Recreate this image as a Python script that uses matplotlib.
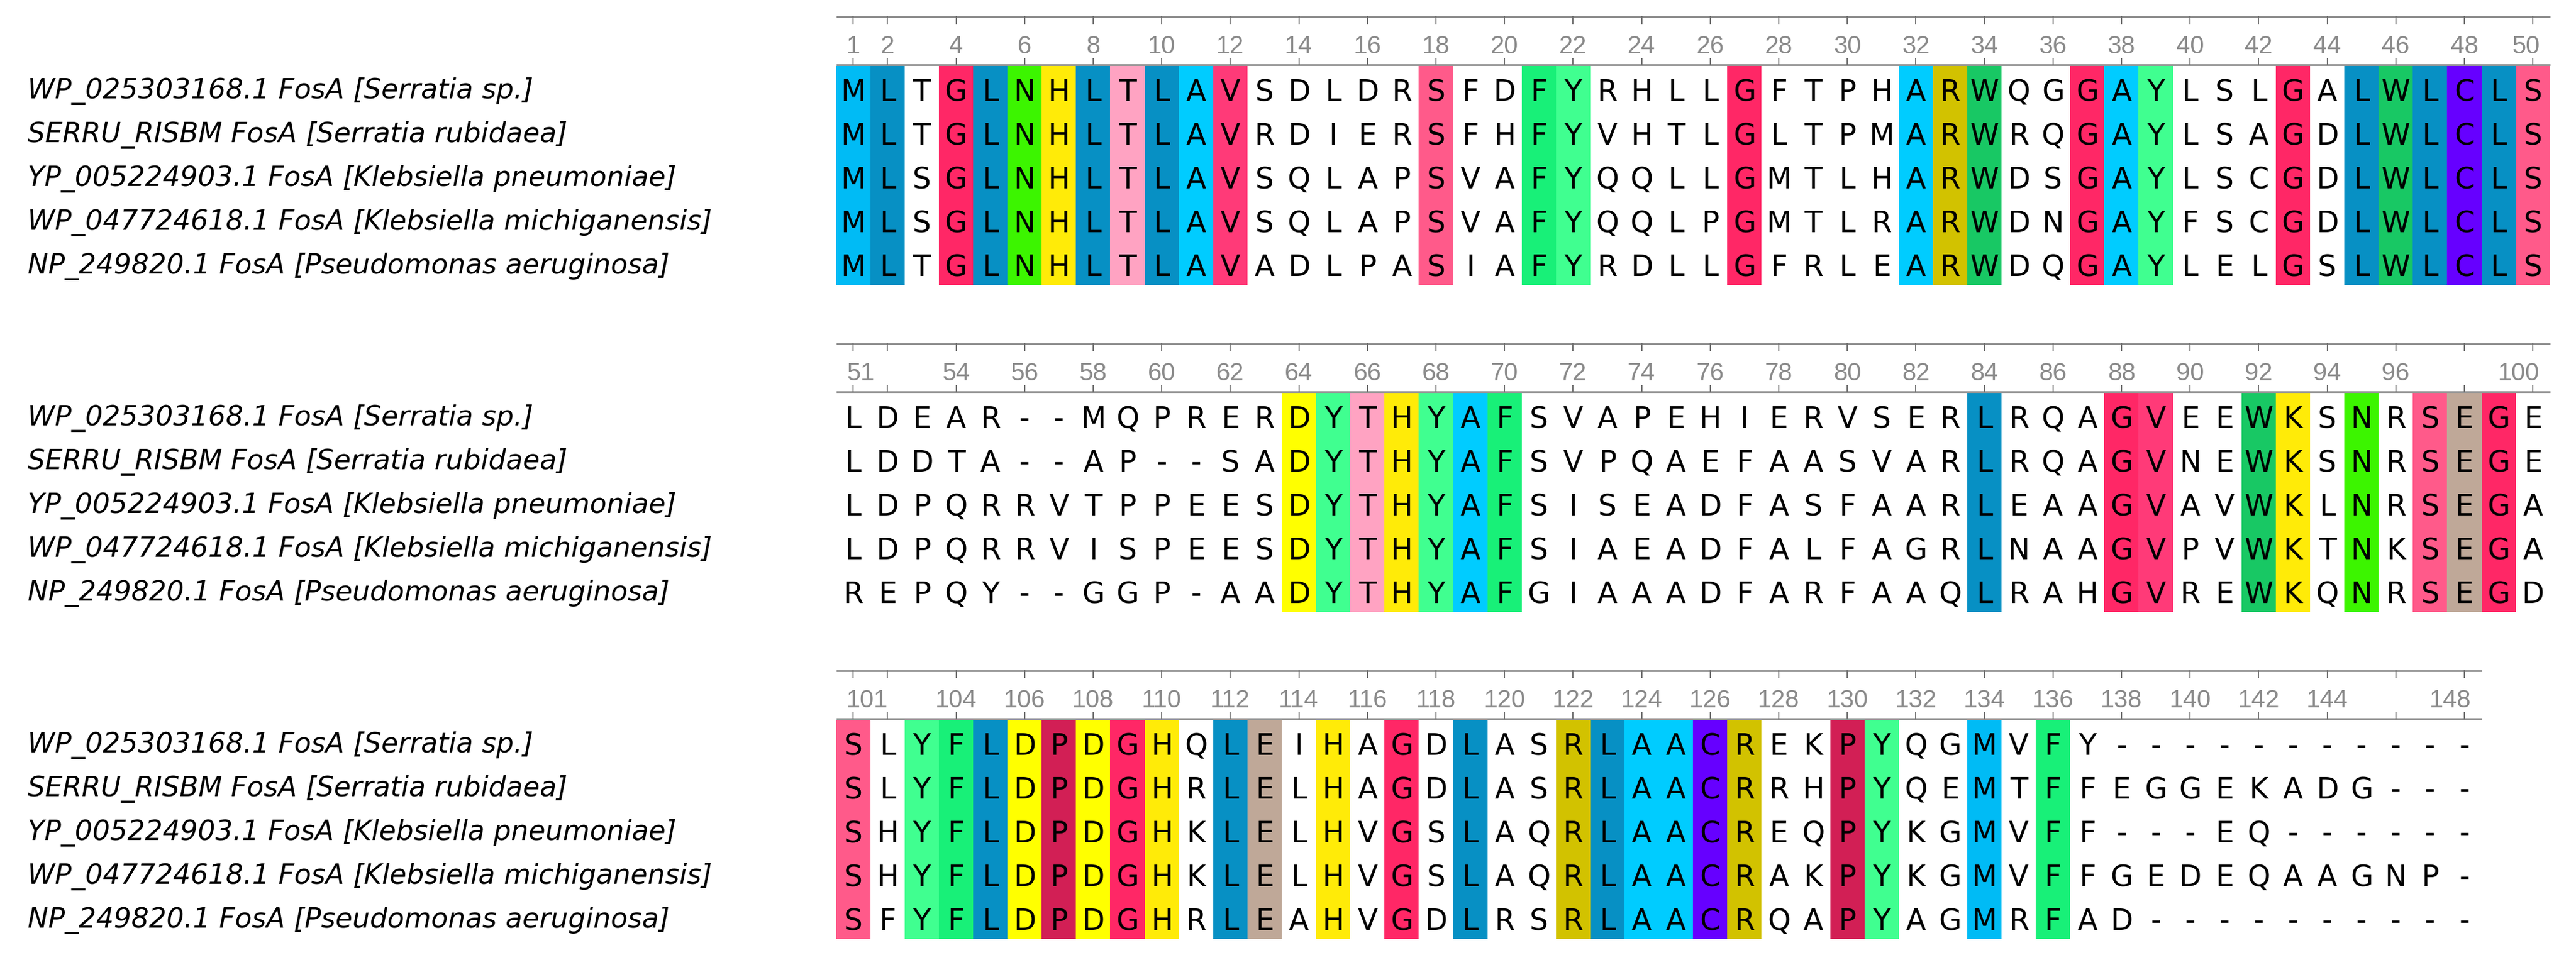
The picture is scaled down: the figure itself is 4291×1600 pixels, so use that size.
import matplotlib
matplotlib.use("Agg")
import matplotlib.pyplot as plt

# sequence names
names = [
    "WP_025303168.1 FosA [Serratia sp.]",
    "SERRU_RISBM FosA [Serratia rubidaea]",
    "YP_005224903.1 FosA [Klebsiella pneumoniae]",
    "WP_047724618.1 FosA [Klebsiella michiganensis]",
    "NP_249820.1 FosA [Pseudomonas aeruginosa]",
]

# alignment, one list per block (columns 1-50, 51-100, 101-148)
block1 = [
    "MLTGLNHLTLAVSDLDRSFDFYRHLLGFTPHARWQGGAYLSLGALWLCLS",
    "MLTGLNHLTLAVRDIERSFHFYVHTLGLTPMARWRQGAYLSAGDLWLCLS",
    "MLSGLNHLTLAVSQLAPSVAFYQQLLGMTLHARWDSGAYLSCGDLWLCLS",
    "MLSGLNHLTLAVSQLAPSVAFYQQLPGMTLRARWDNGAYFSCGDLWLCLS",
    "MLTGLNHLTLAVADLPASIAFYRDLLGFRLEARWDQGAYLELGSLWLCLS",
]
block2 = [
    "LDEAR--MQPRERDYTHYAFSVAPEHIERVSERLRQAGVEEWKSNRSEGE",
    "LDDTA--AP--SADYTHYAFSVPQAEFAASVARLRQAGVNEWKSNRSEGE",
    "LDPQRRVTPPEESDYTHYAFSISEADFASFAARLEAAGVAVWKLNRSEGA",
    "LDPQRRVISPEESDYTHYAFSIAEADFALFAGRLNAAGVPVWKTNKSEGA",
    "REPQY--GGP-AADYTHYAFGIAAADFARFAAQLRAHGVREWKQNRSEGD",
]
block3 = [
    "SLYFLDPDGHQLEIHAGDLASRLAACREKPYQGMVFY-----------",
    "SLYFLDPDGHRLELHAGDLASRLAACRRHPYQEMTFFEGGEKADG---",
    "SHYFLDPDGHKLELHVGSLAQRLAACREQPYKGMVFF---EQ------",
    "SHYFLDPDGHKLELHVGSLAQRLAACRAKPYKGMVFFGEDEQAAGNP-",
    "SFYFLDPDGHRLEAHVGDLRSRLAACRQAPYAGMRFAD----------",
]
blocks = [block1, block2, block3]
block_start = [1, 51, 101]

# ruler ticks and the numbers printed on them
ticks1 = [1, 2, 4, 6, 8, 10, 12, 14, 16, 18, 20, 22, 24, 26, 28, 30, 32, 34,
          36, 38, 40, 42, 44, 46, 48, 50]
ticks2 = [51, 52, 54, 56, 58, 60, 62, 64, 66, 68, 70, 72, 74, 76, 78, 80, 82,
          84, 86, 88, 90, 92, 94, 96, 98, 100]
ticks3 = [101, 102, 104, 106, 108, 110, 112, 114, 116, 118, 120, 122, 124, 126,
          128, 130, 132, 134, 136, 138, 140, 142, 144, 146, 148]
labels1 = ticks1
labels2 = [51, 54, 56, 58, 60, 62, 64, 66, 68, 70, 72, 74, 76, 78, 80, 82, 84,
           86, 88, 90, 92, 94, 96, 100]
labels3 = [101, 104, 106, 108, 110, 112, 114, 116, 118, 120, 122, 124, 126, 128,
           130, 132, 134, 136, 138, 140, 142, 144, 148]
ticks = [ticks1, ticks2, ticks3]
tick_labels = [labels1, labels2, labels3]

# colour of fully conserved columns, by residue
res_colors = {
    'M': '#00BBF5', 'L': '#0790C4', 'A': '#00CCFF', 'G': '#FF2766',
    'V': '#FF3A78', 'S': '#FF5A8A', 'T': '#FFA3C2', 'N': '#3CF500',
    'H': '#FFEB08', 'K': '#FFEB08', 'D': '#FFFF00', 'F': '#18F078',
    'Y': '#40FF90', 'W': '#18C864', 'R': '#D2C200', 'C': '#6600FF',
    'E': '#BFA898', 'P': '#D21F55', 'Q': '#FF9900', 'I': '#0790C4',
}

W, H = 4291, 1600
COL = 57.1      # px per column
X0 = 1392.7     # px where column 1 starts
ROW = 73.0      # px per sequence row
STRIP = 110     # px from block top to first row
block_top = [0, 545, 1090]
block_h = [545, 545, 510]

fig = plt.figure(figsize=(W / 100, H / 100), dpi=100)
fig.patch.set_facecolor('white')

ruler_top, ruler_bot = -1.13, -0.03
grey = '#8a8a8a'

for b, rows in enumerate(blocks):
    top, h = block_top[b], block_h[b]
    ax = fig.add_axes([0, 1 - (top + h) / H, 1, h / H])
    ax.set_xlim(-X0 / COL, (W - X0) / COL)
    ax.set_ylim((h - STRIP) / ROW, -STRIP / ROW)
    ax.axis('off')
    n = len(rows[0])
    s0 = block_start[b]

    # conserved columns
    for j in range(n):
        col = set(r[j] for r in rows)
        if len(col) == 1 and '-' not in col:
            ax.bar(j, len(rows), width=1, bottom=0, align='edge',
                   color=res_colors[rows[0][j]], linewidth=0)

    # residues
    for i, r in enumerate(rows):
        for j, ch in enumerate(r):
            ax.text(j + 0.5, i + 0.80, ch, ha='center', va='baseline',
                    fontsize=35, family='DejaVu Sans', color='black')

    # sequence names
    for i, nm in enumerate(names):
        ax.text(-X0 / COL + 46 / COL, i + 0.74, nm, ha='left', va='baseline',
                fontsize=33, family='DejaVu Sans', style='italic', color='black')

    # ruler
    ax.plot([0, n], [ruler_top, ruler_top], color=grey, lw=2.0,
            solid_capstyle='butt')
    ax.plot([0, n], [ruler_bot, ruler_bot], color=grey, lw=2.0,
            solid_capstyle='butt')
    for t in ticks[b]:
        x = t - s0 + 0.5
        ax.plot([x, x], [ruler_top, ruler_top + 0.16], color='#707070', lw=1.4)
        ax.plot([x, x], [ruler_bot, ruler_bot - 0.14], color='#707070', lw=1.4)
    for t in tick_labels[b]:
        k = t - s0
        if k == 0:
            x, ha = 0.3, 'left'
        elif k == n - 1:
            x, ha = n - 0.3, 'right'
        else:
            x, ha = k + 0.5, 'center'
        ax.text(x, -0.29, str(t), ha=ha, va='baseline', fontsize=30,
                family='Liberation Sans', color=grey)

fig.savefig('out.png', dpi=100, facecolor='white')
